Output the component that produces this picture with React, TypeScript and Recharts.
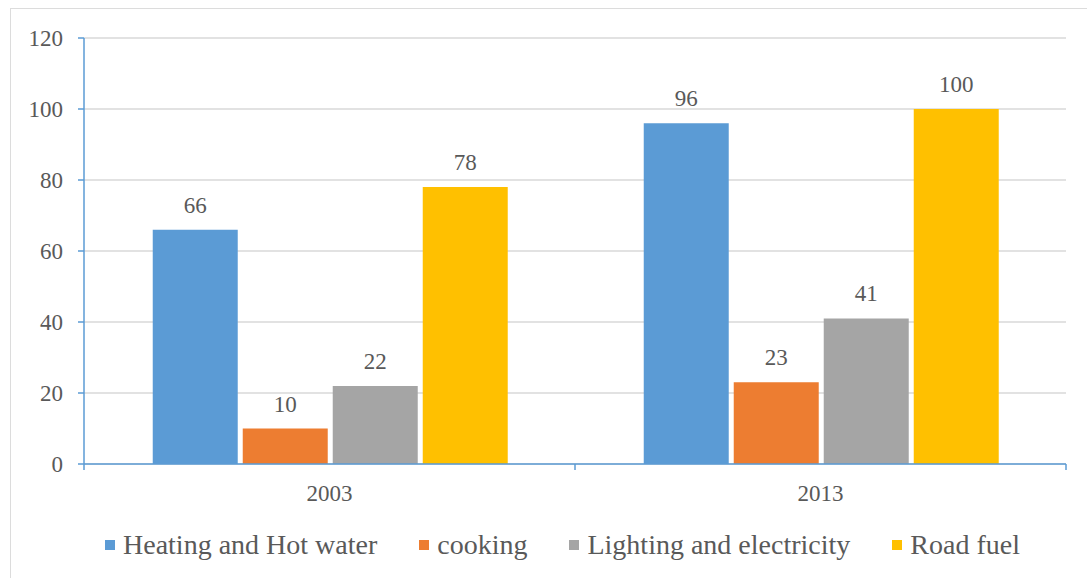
import React from 'react'
import { BarChart, Bar, XAxis, YAxis, CartesianGrid, Legend, LabelList } from 'recharts'

const YEARS = ['2003', '2013']
const HEATING = [66, 96]
const COOKING = [10, 23]
const LIGHTING = [22, 41]
const ROAD_FUEL = [78, 100]
const Y_TICKS = [0, 20, 40, 60, 80, 100, 120]
// edge ticks at the band boundaries, labels in the band middles
const X_TICKS = [0, 0.5, 1, 1.5, 2]

const SERIES = [
  { key: 'heating', name: 'Heating and Hot water', color: '#5B9BD5' },
  { key: 'cooking', name: 'cooking', color: '#ED7D31' },
  { key: 'lighting', name: 'Lighting and electricity', color: '#A5A5A5' },
  { key: 'road', name: 'Road fuel', color: '#FFC000' },
]

const data = YEARS.map((year, i) => ({
  year,
  pos: i + 0.5,
  heating: HEATING[i],
  cooking: COOKING[i],
  lighting: LIGHTING[i],
  road: ROAD_FUEL[i],
}))

const FONT = 'Liberation Serif'
const TEXT = '#595959'
const AXIS = '#5B9BD5'

function EdgeTick(props: any) {
  const { x, y, payload } = props
  const v = payload.value
  if (Number.isInteger(v)) {
    return <line x1={x} x2={x} y1={y} y2={y + 6} stroke={AXIS} strokeWidth={1.5} />
  }
  return (
    <text x={x} y={y + 21} dy="0.71em" textAnchor="middle" fill={TEXT} fontSize={23} fontFamily={FONT}>
      {YEARS[Math.floor(v)]}
    </text>
  )
}

function LegendRow() {
  return (
    <div style={{ display: 'flex', alignItems: 'center', height: 30, fontFamily: FONT, fontSize: 28, color: TEXT }}>
      {SERIES.map((s) => (
        <div key={s.key} style={{ display: 'flex', alignItems: 'center', marginRight: 42 }}>
          <span style={{ width: 10, height: 10, background: s.color, display: 'inline-block', marginRight: 8 }} />
          <span style={{ fontFamily: FONT }}>{s.name}</span>
        </div>
      ))}
    </div>
  )
}

export default function App() {
  return (
    <div
      style={{
        position: 'absolute',
        left: 0,
        top: 0,
        width: 1087,
        height: 578,
        overflow: 'hidden',
        background: '#fff',
      }}
    >
      <div
        style={{
          position: 'absolute',
          left: 10,
          top: 8,
          width: 1200,
          height: 700,
          border: '1.5px solid #dcdcdc',
        }}
      />
      <div style={{ position: 'absolute', left: 0, top: 0 }}>
        <BarChart
          width={1087}
          height={578}
          data={data}
          margin={{ top: 38, right: 21, bottom: 54, left: 0 }}
          barCategoryGap="14%"
          barGap={5}
        >
          <CartesianGrid horizontal vertical={false} stroke="#D9D9D9" strokeWidth={1.5} />
          <XAxis xAxisId="cat" dataKey="year" hide />
          <XAxis
            dataKey="pos"
            type="number"
            domain={[0, 2]}
            ticks={X_TICKS}
            interval={0}
            tickLine={false}
            tickSize={0}
            tickMargin={0}
            axisLine={{ stroke: AXIS, strokeWidth: 1.5 }}
            tick={<EdgeTick />}
            height={30}
          />
          <YAxis
            domain={[0, 120]}
            ticks={Y_TICKS}
            width={84}
            tickSize={6}
            tickMargin={15}
            axisLine={{ stroke: AXIS, strokeWidth: 1.5 }}
            tickLine={{ stroke: AXIS, strokeWidth: 1.5 }}
            tick={{ fill: TEXT, fontSize: 23, fontFamily: FONT }}
            interval={0}
          />
          <Legend
            verticalAlign="bottom"
            height={30}
            content={<LegendRow />}
            wrapperStyle={{ left: 105, top: 530, width: 1000 }}
          />
          {SERIES.map((s) => (
            <Bar key={s.key} xAxisId="cat" dataKey={s.key} name={s.name} fill={s.color} isAnimationActive={false}>
              <LabelList dataKey={s.key} position="top" offset={17} fill={TEXT} fontSize={23} fontFamily={FONT} />
            </Bar>
          ))}
        </BarChart>
      </div>
    </div>
  )
}
